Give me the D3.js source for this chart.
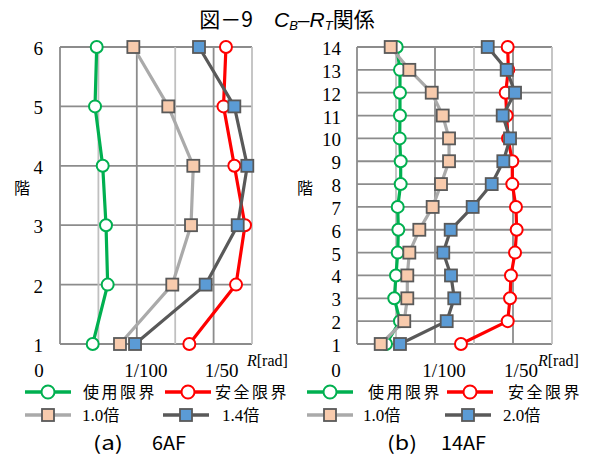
<!DOCTYPE html>
<html>
<head>
<meta charset="utf-8">
<title>図－9 CB-RT関係</title>
<style>
  body { margin: 0; background: #fff; }
  svg { display: block; }
  .serif { font-family: "Liberation Serif", "DejaVu Serif", serif; }
  .jp { font-family: "Noto Sans CJK JP", sans-serif; }
</style>
</head>
<body>
<script src="https://cdn.jsdelivr.net/npm/d3@7"></script>
<script>
// ---- data (drift angle R [rad] per floor) ----
var floorsA = [1, 2, 3, 4, 5, 6];
var serviceA = [0.00426, 0.00621, 0.00599, 0.00556, 0.00456, 0.00478];
var safetyA  = [0.01684, 0.02292, 0.02409, 0.02270, 0.02129, 0.02161];
var x10A     = [0.00781, 0.01462, 0.01706, 0.01736, 0.01410, 0.00955];
var x14A     = [0.00977, 0.01897, 0.02314, 0.02439, 0.02270, 0.01810];

var floorsB = [1, 2, 3, 4, 5, 6, 7, 8, 9, 10, 11, 12, 13, 14];
var serviceB = [0.00372, 0.00551, 0.00478, 0.00500, 0.00522, 0.00530, 0.00522,
                0.00560, 0.00560, 0.00547, 0.00551, 0.00551, 0.00551, 0.00509];
var safetyB  = [0.01333, 0.01932, 0.01962, 0.01974, 0.02026, 0.02047, 0.02038,
                0.01991, 0.01991, 0.01936, 0.01919, 0.01906, 0.01940, 0.01932];
var x10B     = [0.00304, 0.00606, 0.00645, 0.00645, 0.00671, 0.00799, 0.00970,
                0.01077, 0.01180, 0.01180, 0.01099, 0.00958, 0.00671, 0.00432];
var x20B     = [0.00551, 0.01150, 0.01247, 0.01205, 0.01106, 0.01201, 0.01483,
                0.01727, 0.01876, 0.01962, 0.01868, 0.02026, 0.01919, 0.01676];

var xGrid = [0, 0.005, 0.01, 0.015, 0.02, 0.025];
var xMajor = [0, 0.01, 0.02];
var xLabels = ["0", "1/100", "1/50"];
var xLabelShift = [-21, 9, 8];

var seriesNamesA = ["使用限界", "安全限界", "1.0倍", "1.4倍"];
var seriesNamesB = ["使用限界", "安全限界", "1.0倍", "2.0倍"];

var styles = [
  {line: "#00b050", marker: "circle", fill: "#fff", stroke: "#00b050"},
  {line: "#ff0000", marker: "circle", fill: "#fff", stroke: "#ff0000"},
  {line: "#aaaaaa", marker: "square", fill: "#f8cbad", stroke: "#595959"},
  {line: "#595959", marker: "square", fill: "#5b9bd5", stroke: "#595959"}
];

var width = 597, height = 457;

var svg = d3.select("body").append("svg")
  .attr("width", width)
  .attr("height", height);

// title
var title = svg.append("text")
  .attr("class", "jp")
  .attr("x", 287)
  .attr("y", 27)
  .attr("text-anchor", "middle")
  .attr("font-size", 21)
  .attr("fill", "#000");
title.append("tspan").text("図－9　");
title.append("tspan").attr("font-style", "italic").attr("font-family", "Liberation Sans, sans-serif").text("C");
title.append("tspan").attr("font-style", "italic").attr("font-family", "Liberation Sans, sans-serif")
  .attr("font-size", 13).attr("dy", 3).text("B");
title.append("tspan").attr("dy", -3).attr("font-family", "Liberation Sans, sans-serif").text("–");
title.append("tspan").attr("font-style", "italic").attr("font-family", "Liberation Sans, sans-serif").text("R");
title.append("tspan").attr("font-style", "italic").attr("font-family", "Liberation Sans, sans-serif")
  .attr("font-size", 13).attr("dy", 3).text("T");
title.append("tspan").attr("dy", -3).text("関係");

var panels = [
  {
    x0: 60, x1: 252, floors: floorsA,
    series: [serviceA, safetyA, x10A, x14A], names: seriesNamesA,
    labelEnd: 43, kaiX: 22, rradX: 247,
    legText: [83, 215, 82, 222], legLine: [25, 165, 25, 163],
    sub: ["(a)", "6AF"], subX: [93, 152], subW: [30, 34]
  },
  {
    x0: 357, x1: 552, floors: floorsB,
    series: [serviceB, safetyB, x10B, x20B], names: seriesNamesB,
    labelEnd: 341, kaiX: 305, rradX: 538,
    legText: [368, 508, 363, 503], legLine: [307, 447, 307, 445],
    sub: ["(b)", "14AF"], subX: [387, 441], subW: [30, 45]
  }
];

var yTop = 47, yBot = 344;

panels.forEach(function(p) {
  var x = d3.scaleLinear().domain([0, 0.025]).range([p.x0, p.x1]);
  var y = d3.scaleLinear().domain([1, d3.max(p.floors)]).range([yBot, yTop]);
  var g = svg.append("g");

  // grid
  g.selectAll("line.h").data(p.floors).enter().append("line")
    .attr("x1", p.x0).attr("x2", p.x1)
    .attr("y1", function(d) { return y(d); })
    .attr("y2", function(d) { return y(d); })
    .attr("stroke", "#8c8c8c").attr("stroke-width", 1.8);
  g.selectAll("line.v").data(xGrid).enter().append("line")
    .attr("x1", function(d) { return x(d); })
    .attr("x2", function(d) { return x(d); })
    .attr("y1", yTop).attr("y2", yBot)
    .attr("stroke", function(d, i) { return i % 2 == 0 ? "#8c8c8c" : "#c0c0c0"; })
    .attr("stroke-width", 1.8);

  // y tick labels
  g.selectAll("text.yl").data(p.floors).enter().append("text")
    .attr("class", "serif")
    .attr("x", p.labelEnd)
    .attr("y", function(d) { return y(d) + 8; })
    .attr("text-anchor", "end")
    .attr("font-size", 19)
    .text(function(d) { return d; });

  g.append("text").attr("class", "jp")
    .attr("x", p.kaiX).attr("y", 194)
    .attr("text-anchor", "middle")
    .attr("font-size", 16)
    .text("階");

  // x labels
  g.selectAll("text.xl").data(xMajor).enter().append("text")
    .attr("class", "serif")
    .attr("x", function(d, i) { return x(d) + xLabelShift[i]; })
    .attr("y", 377)
    .attr("text-anchor", "middle")
    .attr("font-size", 19)
    .text(function(d, i) { return xLabels[i]; });

  var rr = g.append("text").attr("class", "serif")
    .attr("x", p.rradX).attr("y", 366).attr("font-size", 16);
  rr.append("tspan").attr("font-style", "italic").text("R");
  rr.append("tspan").text("[rad]");

  // series
  var line = d3.line()
    .x(function(d) { return x(d[0]); })
    .y(function(d) { return y(d[1]); });

  p.series.forEach(function(vals, si) {
    var st = styles[si];
    var pts = vals.map(function(v, i) { return [v, p.floors[i]]; });
    var sg = g.append("g");
    sg.append("path")
      .attr("d", line(pts))
      .attr("fill", "none")
      .attr("stroke", st.line)
      .attr("stroke-width", 3.2)
      .attr("stroke-linejoin", "round");
    if (st.marker == "circle") {
      sg.selectAll("circle").data(pts).enter().append("circle")
        .attr("cx", function(d) { return x(d[0]); })
        .attr("cy", function(d) { return y(d[1]); })
        .attr("r", 6)
        .attr("fill", st.fill)
        .attr("stroke", st.stroke)
        .attr("stroke-width", 2);
    } else {
      sg.selectAll("rect").data(pts).enter().append("rect")
        .attr("x", function(d) { return x(d[0]) - 6; })
        .attr("y", function(d) { return y(d[1]) - 6; })
        .attr("width", 12).attr("height", 12)
        .attr("fill", st.fill)
        .attr("stroke", st.stroke)
        .attr("stroke-width", 1.8);
    }
  });

  // legend
  p.names.forEach(function(name, si) {
    var st = styles[si];
    var ly = si < 2 ? 392 : 415;
    var lx = p.legLine[si];
    var lg = svg.append("g");
    lg.append("line")
      .attr("x1", lx).attr("x2", lx + 46)
      .attr("y1", ly).attr("y2", ly)
      .attr("stroke", st.line).attr("stroke-width", 3.5);
    if (st.marker == "circle") {
      lg.append("circle").attr("cx", lx + 23).attr("cy", ly).attr("r", 6.5)
        .attr("fill", st.fill).attr("stroke", st.stroke).attr("stroke-width", 2);
    } else {
      lg.append("rect").attr("x", lx + 17).attr("y", ly - 6)
        .attr("width", 12).attr("height", 12)
        .attr("fill", st.fill).attr("stroke", st.stroke).attr("stroke-width", 1.8);
    }
    var t = lg.append("text")
      .attr("x", p.legText[si]).attr("y", ly + 6)
      .attr("font-size", 16);
    if (si < 2) {
      t.attr("class", "jp").attr("letter-spacing", 2.5).text(name);
    } else {
      t.append("tspan").attr("class", "serif").attr("font-size", 17).text(name.slice(0, 3));
      t.append("tspan").attr("class", "jp").text(name.slice(3));
    }
  });

  // sub caption
  p.sub.forEach(function(s, i) {
    svg.append("text").attr("class", "jp")
      .attr("x", p.subX[i]).attr("y", 450)
      .attr("font-size", 19)
      .attr("textLength", p.subW[i])
      .attr("lengthAdjust", "spacingAndGlyphs")
      .text(s);
  });
});
</script>
</body>
</html>
